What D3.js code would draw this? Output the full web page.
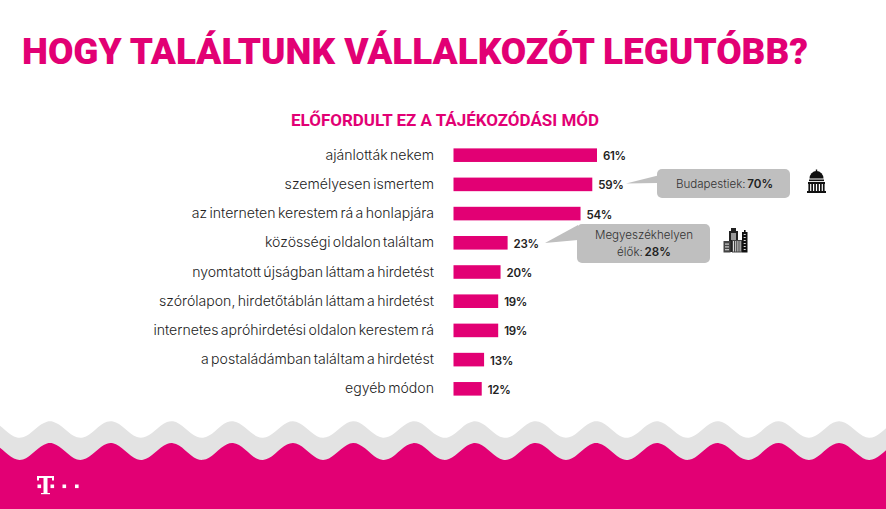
<!DOCTYPE html>
<html><head><meta charset="utf-8">
<script src="https://cdn.jsdelivr.net/npm/d3@7"></script>
<style>html,body{margin:0;padding:0;background:#fff}svg{display:block}text{font-family:Inter,Lato,sans-serif}</style>
</head><body><svg id="c" width="886" height="509"></svg>
<script>
const categories = ["ajánlották nekem","személyesen ismertem","az interneten kerestem rá a honlapjára","közösségi oldalon találtam","nyomtatott újságban láttam a hirdetést","szórólapon, hirdetőtáblán láttam a hirdetést","internetes apróhirdetési oldalon kerestem rá","a postaládámban találtam a hirdetést","egyéb módon"];
const values = [61,59,54,23,20,19,19,13,12];
const titleText = "HOGY TALÁLTUNK VÁLLALKOZÓT LEGUTÓBB?";
const subtitleText = "ELŐFORDULT EZ A TÁJÉKOZÓDÁSI MÓD";
const magenta = "#e20074";

const svg = d3.select("#c");
const x = d3.scaleLinear().domain([0,61]).range([453.5,597]);
const y = d3.scaleBand().domain(categories).range([140.5,403.5]).paddingInner(0.535).paddingOuter(0.27);

// background waves (decoration)
const period = 60.7, xs = d3.range(-61, 950, 6);
const wave = (mid, amp) => d3.line().curve(d3.curveBasis)
  .x(d=>d).y(d=>mid + amp*Math.cos((d-50)*2*Math.PI/period));
function band(mid, amp, fill){
  svg.append("path").attr("d", wave(mid,amp)(xs) + "L950,509L-61,509Z").attr("fill",fill);
}
band(429.5,-8.8,"#e3e3e3");
band(451.5,-9,magenta);

// title
svg.append("text").attr("x",22).attr("y",64).attr("textLength",786).attr("lengthAdjust","spacingAndGlyphs")
  .attr("font-size",37).attr("font-weight",900).attr("fill",magenta).style("font-family","Roboto").text(titleText);
svg.append("text").attr("x",445).attr("y",126).attr("text-anchor","middle").attr("textLength",308).attr("lengthAdjust","spacingAndGlyphs")
  .attr("font-size",16).attr("font-weight",700).attr("fill",magenta).style("font-family","Roboto").text(subtitleText);

// bars
svg.selectAll("rect.bar").data(values).join("rect").attr("class","bar")
  .attr("x",x(0)).attr("y",(d,i)=>y(categories[i]))
  .attr("width",d=>x(d)-x(0)).attr("height",y.bandwidth()).attr("fill",magenta);

// category labels
svg.selectAll("text.cat").data(categories).join("text").attr("class","cat")
  .attr("x",434).attr("y",d=>y(d)+y.bandwidth()/2+4.6).attr("text-anchor","end")
  .attr("font-size",14.1).attr("font-weight",300).attr("word-spacing",-1.6).attr("fill","#222").text(d=>d);

// value labels
svg.selectAll("text.val").data(values).join("text").attr("class","val")
  .attr("x",d=>x(d)+6).attr("y",(d,i)=>y(categories[i])+y.bandwidth()/2+5)
  .attr("font-size",11.5).attr("font-weight",600).attr("letter-spacing",-0.3).attr("fill","#222").text(d=>d+"%");

// callouts
const grey="#bfbfbf";
svg.append("path").attr("d","M626,183.5L658,175.5L658,183Z").attr("fill",grey);
svg.append("rect").attr("x",657).attr("y",169).attr("width",133).attr("height",29).attr("rx",5).attr("fill",grey);
const t1=svg.append("text").attr("x",724.5).attr("y",187.5).attr("text-anchor","middle").attr("font-size",11.6).attr("font-weight",300).attr("word-spacing",-1.5).attr("fill","#333");
t1.append("tspan").text("Budapestiek: ");
t1.append("tspan").attr("font-weight",600).attr("fill","#222").text("70%");

svg.append("path").attr("d","M545,243L578,225L578,240Z").attr("fill",grey);
svg.append("rect").attr("x",577).attr("y",224).attr("width",133).attr("height",39).attr("rx",5).attr("fill",grey);
svg.append("text").attr("x",644).attr("y",239).attr("text-anchor","middle").attr("font-size",11.6).attr("font-weight",300).attr("fill","#333").text("Megyeszékhelyen");
const t2=svg.append("text").attr("x",644).attr("y",255.5).attr("text-anchor","middle").attr("font-size",11.6).attr("font-weight",300).attr("word-spacing",-1.5).attr("fill","#333");
t2.append("tspan").text("élők: ");
t2.append("tspan").attr("font-weight",600).attr("fill","#222").text("28%");

// capitol icon
const ic=svg.append("g").attr("fill","#111");
ic.append("path").attr("d","M809.5,178.5A7,7.5 0 0 1 823.5,178.5Z");
ic.append("rect").attr("x",815.8).attr("y",169.5).attr("width",1.4).attr("height",3);
ic.append("rect").attr("x",809).attr("y",179.5).attr("width",15).attr("height",1.6);
ic.append("rect").attr("x",808).attr("y",182).attr("width",17).attr("height",2);
for(const k of [0,1,2,3,4,5]) ic.append("rect").attr("x",808.4+k*2.9).attr("y",184).attr("width",1.7).attr("height",7);
ic.append("rect").attr("x",807).attr("y",191).attr("width",19).attr("height",2);

// city icon
const ci=svg.append("g");
ci.append("rect").attr("x",729).attr("y",231).attr("width",9).attr("height",21).attr("fill","#222");
ci.append("rect").attr("x",731).attr("y",228).attr("width",5).attr("height",3).attr("fill","#222");
ci.append("rect").attr("x",731).attr("y",233).attr("width",5).attr("height",7).attr("fill","#999");
ci.append("rect").attr("x",742).attr("y",232).attr("width",5.5).attr("height",20.5).attr("fill","#111");
ci.append("rect").attr("x",744).attr("y",230).attr("width",1.6).attr("height",2).attr("fill","#111");
ci.append("rect").attr("x",723.5).attr("y",241).attr("width",7).attr("height",11.5).attr("fill","#444");
ci.append("rect").attr("x",732).attr("y",240).attr("width",10).attr("height",12.5).attr("fill","#444");
for(const k of [0,1,2,3]) ci.append("rect").attr("x",733+k*2.2).attr("y",241).attr("width",1).attr("height",10.5).attr("fill","#ddd");
for(const k of [0,1,2,3,4,5]) ci.append("rect").attr("x",743.7).attr("y",234+k*3).attr("width",2).attr("height",1).attr("fill","#ddd");
for(const k of [0,1,2]) ci.append("rect").attr("x",725).attr("y",243.5+k*2.8).attr("width",4).attr("height",1.2).attr("fill","#ccc");

// T logo
const lg=svg.append("g").attr("fill","#fff");
lg.append("rect").attr("x",37).attr("y",476).attr("width",17).attr("height",2);
lg.append("rect").attr("x",37).attr("y",476).attr("width",2).attr("height",4.5);
lg.append("rect").attr("x",52).attr("y",476).attr("width",2).attr("height",4.5);
lg.append("rect").attr("x",43.5).attr("y",476).attr("width",4).attr("height",17);
lg.append("rect").attr("x",41).attr("y",493).attr("width",9).attr("height",1.2);
for(const px of [37.5,50.5,62.5,75]) lg.append("rect").attr("x",px).attr("y",484.5).attr("width",3.6).attr("height",3.6);
</script></body></html>
